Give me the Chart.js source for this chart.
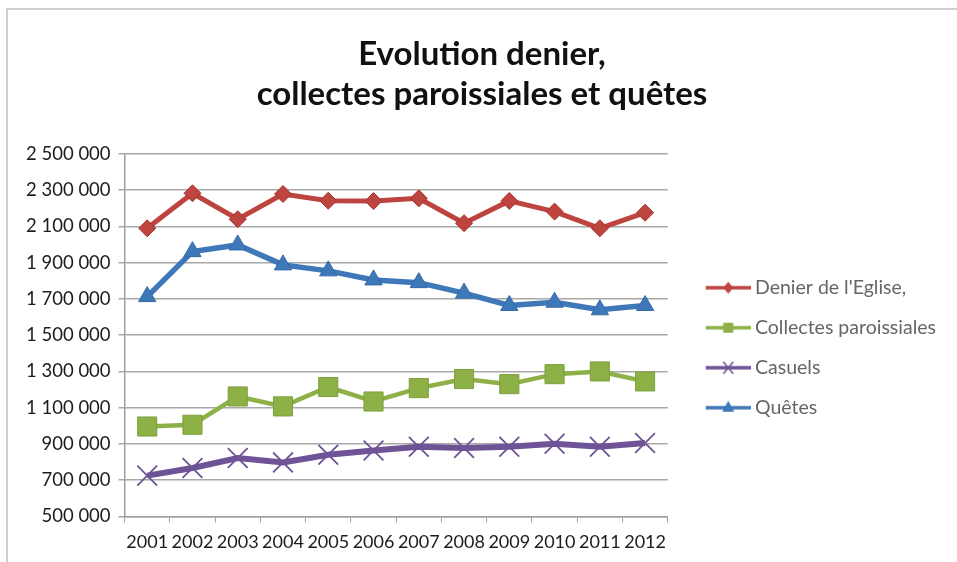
<!DOCTYPE html>
<html><head><meta charset="utf-8">
<script src="https://cdn.jsdelivr.net/npm/chart.js@4"></script>
<style>html,body{margin:0;padding:0;background:#fff;}#c{display:block;}</style>
</head><body>
<canvas id="c" width="957" height="562"></canvas>
<script>
const years = ['2001','2002','2003','2004','2005','2006','2007','2008','2009','2010','2011','2012'];
const denier = [2090000,2283000,2140000,2279000,2242000,2240000,2255000,2118000,2241000,2182000,2090000,2176000];
const collectes = [996000,1006000,1162000,1107000,1214000,1134000,1208000,1258000,1230000,1285000,1300000,1245000];
const casuels = [725000,767000,822000,798000,840000,864000,884000,877000,884000,901000,884000,905000];
const quetes = [1713000,1961000,1998000,1888000,1855000,1805000,1790000,1732000,1664000,1682000,1640000,1664000];
const seriesNames = ["Denier de l'Eglise,", 'Collectes paroissiales', 'Casuels', 'Quêtes'];
const titleLines = ['Evolution denier,', 'collectes paroissiales et quêtes'];
const yMin = 500000, yMax = 2500000, yStep = 200000;

const RED = '#be4440', GREEN = '#8db147', PURPLE = '#6f5397', BLUE = '#3f78b8';

function legendIcon(color, kind) {
  const c = document.createElement('canvas');
  c.width = 68; c.height = 18;
  const x = c.getContext('2d');
  x.strokeStyle = color; x.fillStyle = color; x.lineWidth = 3.5;
  x.beginPath(); x.moveTo(23, 9); x.lineTo(68, 9); x.stroke();
  const cx = 45.5, cy = 9;
  x.beginPath();
  if (kind === 'diamond') { x.moveTo(cx, cy-6); x.lineTo(cx+5, cy); x.lineTo(cx, cy+6); x.lineTo(cx-5, cy); x.closePath(); x.fill(); }
  else if (kind === 'square') { x.rect(cx-5, cy-5, 10, 10); x.fill(); }
  else if (kind === 'x') { x.lineWidth = 1.5; x.moveTo(cx-5, cy-6); x.lineTo(cx+5, cy+6); x.moveTo(cx+5, cy-6); x.lineTo(cx-5, cy+6); x.stroke(); }
  else { x.moveTo(cx, cy-7); x.lineTo(cx+6, cy+4); x.lineTo(cx-6, cy+4); x.closePath(); x.fill(); }
  return c;
}
const icons = [legendIcon(RED,'diamond'), legendIcon(GREEN,'square'), legendIcon(PURPLE,'x'), legendIcon(BLUE,'tri')];

const framePlugin = {
  id: 'frame',
  beforeDraw(chart) {
    const ctx = chart.ctx;
    ctx.save();
    ctx.strokeStyle = '#cfcfcf'; ctx.lineWidth = 2;
    ctx.beginPath(); ctx.moveTo(7, 562); ctx.lineTo(7, 9); ctx.lineTo(957, 9); ctx.stroke();
    ctx.restore();
  }
};

function fmt(v) { return String(v).replace(/\B(?=(\d{3})+(?!\d))/g, ' '); }

new Chart(document.getElementById('c'), {
  type: 'line',
  data: {
    labels: years,
    datasets: [
      { label: seriesNames[0], data: denier, borderColor: RED, backgroundColor: RED, borderWidth: 5, pointStyle: 'rectRot', pointRadius: 8.5, pointBorderColor: '#a8352f', pointBorderWidth: 1, tension: 0 },
      { label: seriesNames[1], data: collectes, borderColor: GREEN, backgroundColor: GREEN, borderWidth: 4.5, pointStyle: 'rect', pointRadius: 13.5, pointBorderColor: '#7d9f3b', pointBorderWidth: 1, tension: 0 },
      { label: seriesNames[2], data: casuels, borderColor: PURPLE, backgroundColor: PURPLE, borderWidth: 6, pointStyle: 'crossRot', pointRadius: 14, pointBorderColor: PURPLE, pointBorderWidth: 1.8, tension: 0 },
      { label: seriesNames[3], data: quetes, borderColor: BLUE, backgroundColor: BLUE, borderWidth: 5.5, pointStyle: 'triangle', pointRadius: 10, pointBorderColor: '#356aa8', pointBorderWidth: 1, tension: 0 }
    ]
  },
  options: {
    responsive: false,
    animation: false,
    devicePixelRatio: 1,
    layout: { padding: { left: 18, right: 11, top: 0, bottom: 0 } },
    plugins: {
      title: {
        display: true, text: titleLines, color: '#111',
        font: { family: 'Lato', size: 33, weight: 'bold', lineHeight: 1.233 },
        padding: { top: 33.6, bottom: 39 }
      },
      legend: {
        position: 'right', fullSize: false, maxWidth: 320,
        title: { display: true, text: ' ', font: { size: 1, lineHeight: 1 }, padding: { top: 24, bottom: 0 } },
        labels: {
          usePointStyle: true, pointStyleWidth: 57, boxHeight: 18,
          generateLabels(chart) {
            return chart.data.datasets.map((d, i) => ({ text: d.label, pointStyle: icons[i], fillStyle: d.borderColor, strokeStyle: d.borderColor, lineWidth: 0, datasetIndex: i, hidden: false }));
          },
          font: { family: 'Lato', size: 19.5 }, color: '#1c1c1c', padding: 20.5
        }
      },
      tooltip: { enabled: false }
    },
    scales: {
      x: {
        offset: true,
        grid: { display: true, drawOnChartArea: false, drawTicks: true, tickLength: 6, color: '#a0a0a0', offset: true },
        border: { color: '#a0a0a0', width: 1.5 },
        ticks: { font: { family: 'Lato', size: 18 }, color: '#1c1c1c', padding: 9, maxRotation: 0, autoSkip: false }
      },
      y: {
        min: yMin, max: yMax,
        grid: { color: '#a8a8a8', lineWidth: 1.5, tickLength: 6 },
        border: { color: '#a0a0a0', width: 1.5 },
        ticks: { stepSize: yStep, font: { family: 'Lato', size: 18.5 }, color: '#1c1c1c', padding: 8, callback: v => fmt(v) }
      }
    }
  },
  plugins: [framePlugin]
});
</script>
</body></html>
